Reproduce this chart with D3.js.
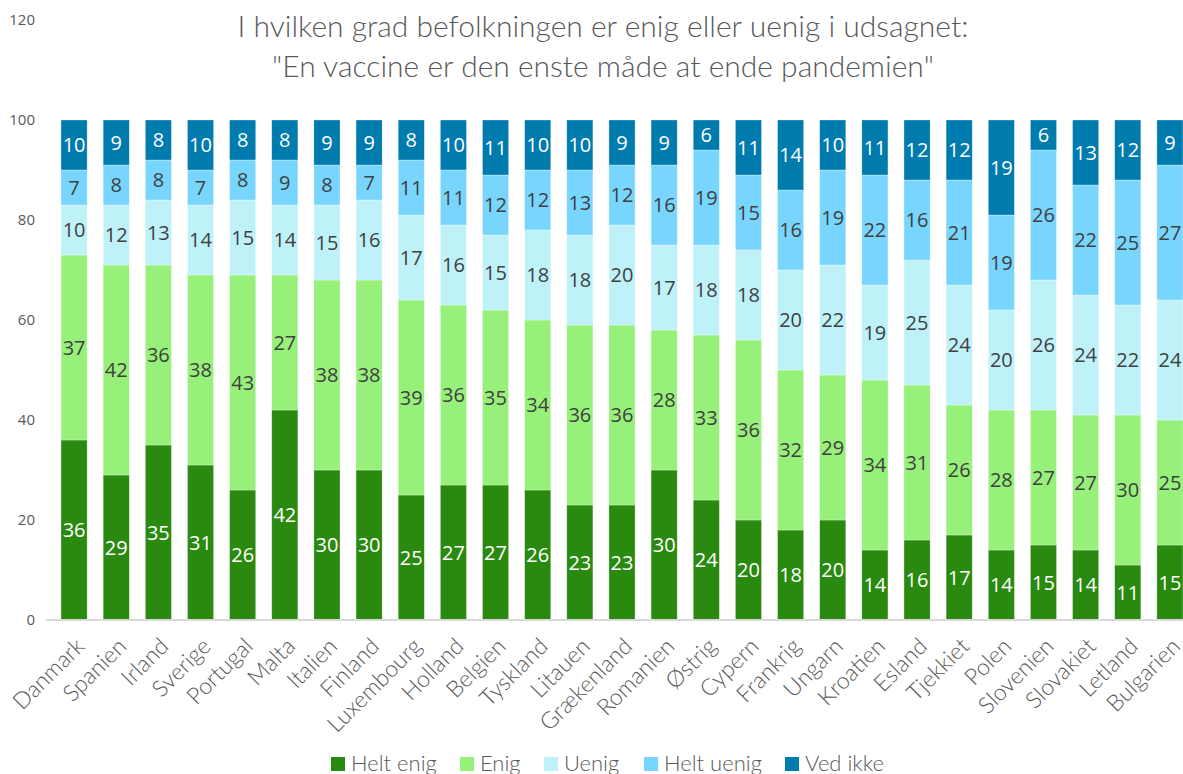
<!DOCTYPE html>
<html>
<head>
<meta charset="utf-8">
<script src="https://cdn.jsdelivr.net/npm/d3@7"></script>
<style>
  body { margin: 0; background: #fff; }
  svg text { font-family: "Open Sans", "Noto Sans", sans-serif; }
  svg text.light { font-family: "Lato", "Open Sans", sans-serif; font-weight: 300; }
</style>
</head>
<body>
<div id="chart"></div>
<script>
// countries in display order
var countries = ["Danmark", "Spanien", "Irland", "Sverige", "Portugal", "Malta", "Italien", "Finland",
    "Luxembourg", "Holland", "Belgien", "Tyskland", "Litauen", "Grækenland", "Romanien", "Østrig",
    "Cypern", "Frankrig", "Ungarn", "Kroatien", "Esland", "Tjekkiet", "Polen", "Slovenien",
    "Slovakiet", "Letland", "Bulgarien"];

var seriesNames = ["Helt enig", "Enig", "Uenig", "Helt uenig", "Ved ikke"];

var heltEnig  = [36, 29, 35, 31, 26, 42, 30, 30, 25, 27, 27, 26, 23, 23, 30, 24, 20, 18, 20, 14, 16, 17, 14, 15, 14, 11, 15];
var enig      = [37, 42, 36, 38, 43, 27, 38, 38, 39, 36, 35, 34, 36, 36, 28, 33, 36, 32, 29, 34, 31, 26, 28, 27, 27, 30, 25];
var uenig     = [10, 12, 13, 14, 15, 14, 15, 16, 17, 16, 15, 18, 18, 20, 17, 18, 18, 20, 22, 19, 25, 24, 20, 26, 24, 22, 24];
var heltUenig = [ 7,  8,  8,  7,  8,  9,  8,  7, 11, 11, 12, 12, 13, 12, 16, 19, 15, 16, 19, 22, 16, 21, 19, 26, 22, 25, 27];
var vedIkke   = [10,  9,  8, 10,  8,  8,  9,  9,  8, 10, 11, 10, 10,  9,  9,  6, 11, 14, 10, 11, 12, 12, 19,  6, 13, 12,  9];

var yTicks = [0, 20, 40, 60, 80, 100, 120];

var colors = ["#2a8a10", "#97f079", "#bef2f8", "#78d6fe", "#007bae"];
var labelColors = ["#ffffff", "#404040", "#404040", "#404040", "#ffffff"];

var width = 1183, height = 774;
var margin = {top: 20, right: 0, bottom: 154, left: 53};

var svg = d3.select("#chart").append("svg")
    .attr("width", width)
    .attr("height", height);

// build rows for the stack layout
var seriesValues = [heltEnig, enig, uenig, heltUenig, vedIkke];
var rows = countries.map(function(c, i){
    var row = {country: c};
    seriesNames.forEach(function(s, j){ row[s] = seriesValues[j][i]; });
    return row;
});
var stacked = d3.stack().keys(seriesNames)(rows);

var x = d3.scaleBand()
    .domain(countries)
    .range([margin.left, 1191])
    .paddingInner(0.38)
    .paddingOuter(0.19);

var y = d3.scaleLinear()
    .domain([0, 120])
    .range([620, 20]);

// y axis labels (no line)
var yAxis = d3.axisLeft(y).tickValues(yTicks).tickSize(0).tickPadding(0);
var yg = svg.append("g").attr("transform", "translate(35,0)").call(yAxis);
yg.select(".domain").remove();
yg.selectAll("text").attr("fill", "#595959").style("font-size", "15px");

// bars
var groups = svg.selectAll("g.series").data(stacked).enter().append("g")
    .attr("class", "series")
    .attr("fill", function(d, i){ return colors[i]; });

groups.selectAll("rect").data(function(d){ return d; }).enter().append("rect")
    .attr("x", function(d){ return x(d.data.country); })
    .attr("y", function(d){ return y(d[1]); })
    .attr("width", x.bandwidth())
    .attr("height", function(d){ return y(d[0]) - y(d[1]); })
    .attr("stroke", "#ffffff")
    .attr("stroke-opacity", 0.5)
    .attr("stroke-width", 0.6);

// data labels
stacked.forEach(function(s, i){
    svg.append("g").selectAll("text").data(s).enter().append("text")
        .attr("x", function(d){ return x(d.data.country) + x.bandwidth() / 2; })
        .attr("y", function(d){ return y((d[0] + d[1]) / 2); })
        .attr("dy", "0.36em")
        .attr("text-anchor", "middle")
        .attr("fill", labelColors[i])
        .style("font-size", "20px")
        .text(function(d){ return d.data[s.key]; });
});

// x axis
var xAxis = d3.axisBottom(x).tickSize(0).tickPadding(0);
var xg = svg.append("g").attr("transform", "translate(0,620)").call(xAxis);
xg.select(".domain").attr("stroke", "#d9d9d9").attr("stroke-width", 2)
    .attr("d", "M46,0H1183");
xg.selectAll(".tick text")
    .attr("class", "light")
    .attr("fill", "#595959")
    .style("font-size", "23px")
    .attr("text-anchor", "end")
    .attr("transform", "translate(6,22) rotate(-45)")
    .attr("dy", "0.35em");

// title
var title = svg.append("text")
    .attr("class", "light")
    .attr("x", 603)
    .attr("text-anchor", "middle")
    .attr("fill", "#595959")
    .style("font-size", "30px");
title.append("tspan").attr("x", 603).attr("y", 37).text("I hvilken grad befolkningen er enig eller uenig i udsagnet:");
title.append("tspan").attr("x", 603).attr("y", 77).text("\"En vaccine er den enste måde at ende pandemien\"");

// legend
var legendX = [331, 460, 544, 644, 785];
var legend = svg.selectAll("g.legend").data(seriesNames).enter().append("g")
    .attr("class", "legend")
    .attr("transform", function(d, i){ return "translate(" + legendX[i] + ",757)"; });
legend.append("rect").attr("width", 14).attr("height", 14)
    .attr("fill", function(d, i){ return colors[i]; });
legend.append("text").attr("class", "light").attr("x", 20).attr("y", 14)
    .attr("fill", "#595959")
    .style("font-size", "22px")
    .text(function(d){ return d; });
</script>
</body>
</html>
